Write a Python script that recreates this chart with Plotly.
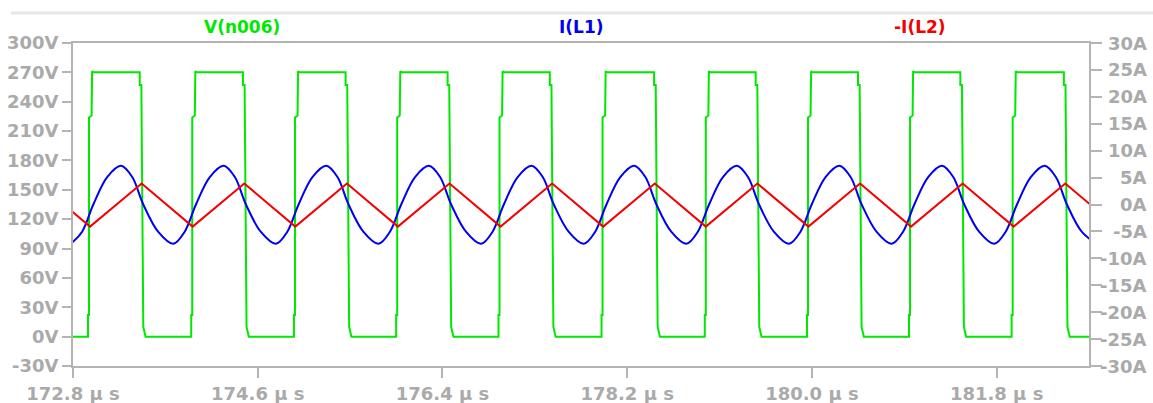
import plotly.graph_objects as go

# ---------------- axis ticks ----------------
X_TICK_VALS = [172.8, 174.6, 176.4, 178.2, 180.0, 181.8]
X_TICK_TEXT = ["172.8 µ s", "174.6 µ s", "176.4 µ s", "178.2 µ s", "180.0 µ s", "181.8 µ s"]
X_RANGE = [172.8, 182.7]

V_TICK_VALS = [-30, 0, 30, 60, 90, 120, 150, 180, 210, 240, 270, 300]
V_TICK_TEXT = ["-30V", "0V", "30V", "60V", "90V", "120V", "150V", "180V", "210V", "240V", "270V", "300V"]
V_RANGE = [-30, 300]

I_TICK_VALS = [-30, -25, -20, -15, -10, -5, 0, 5, 10, 15, 20, 25, 30]
I_TICK_TEXT = ["-30A", "-25A", "-20A", "-15A", "-10A", "-5A", "0A", "5A", "10A", "15A", "20A", "25A", "30A"]
I_RANGE = [-30, 30]

TRACE_NAMES = ["V(n006)", "I(L1)", "-I(L2)"]

# ---------------- V(n006): switching node (read edges, µs) ----------------
V_RISE_T = [172.946, 173.952, 174.953, 175.949, 176.946, 177.950, 178.956, 179.952, 180.946, 181.946]
V_FALL_T = [173.450, 174.456, 175.456, 176.450, 177.446, 178.462, 179.452, 180.449, 181.446, 182.455]
# edge shapes (offset in µs, volts)
RISE_DT = [0.000, 0.000, 0.010, 0.010, 0.035, 0.040, 0.055]
RISE_V = [0, 22, 22, 224, 226, 271, 270]
FALL_DT = [0.000, 0.000, 0.016, 0.035, 0.057]
FALL_V = [270, 257, 257, 10, 0]

# ---------------- I(L1) (read points, µs / A) ----------------
I_L1_T = [
    172.777, 172.887, 172.998, 173.133, 173.268, 173.377, 173.485, 173.631,
    173.777, 173.887, 173.998, 174.133, 174.268, 174.377, 174.485, 174.631,
    174.777, 174.887, 174.998, 175.133, 175.268, 175.377, 175.485, 175.631,
    175.777, 175.887, 175.998, 176.133, 176.268, 176.377, 176.485, 176.631,
    176.777, 176.887, 176.998, 177.133, 177.268, 177.377, 177.485, 177.631,
    177.777, 177.887, 177.998, 178.133, 178.268, 178.377, 178.485, 178.631,
    178.777, 178.887, 178.998, 179.133, 179.268, 179.377, 179.485, 179.631,
    179.777, 179.887, 179.998, 180.133, 180.268, 180.377, 180.485, 180.631,
    180.777, 180.887, 180.998, 181.133, 181.268, 181.377, 181.485, 181.631,
    181.777, 181.887, 181.998, 182.133, 182.268, 182.377, 182.485, 182.631,
    182.777,
]
I_L1_A = [
    -7.3, -5.1, 0.0, 5.1, 7.2, 5.1, 0.0, -5.1,
    -7.3, -5.1, 0.0, 5.1, 7.2, 5.1, 0.0, -5.1,
    -7.3, -5.1, 0.0, 5.1, 7.2, 5.1, 0.0, -5.1,
    -7.3, -5.1, 0.0, 5.1, 7.2, 5.1, 0.0, -5.1,
    -7.3, -5.1, 0.0, 5.1, 7.2, 5.1, 0.0, -5.1,
    -7.3, -5.1, 0.0, 5.1, 7.2, 5.1, 0.0, -5.1,
    -7.3, -5.1, 0.0, 5.1, 7.2, 5.1, 0.0, -5.1,
    -7.3, -5.1, 0.0, 5.1, 7.2, 5.1, 0.0, -5.1,
    -7.3, -5.1, 0.0, 5.1, 7.2, 5.1, 0.0, -5.1,
    -7.3, -5.1, 0.0, 5.1, 7.2, 5.1, 0.0, -5.1,
    -7.3,
]

# ---------------- -I(L2) (read peaks/troughs, µs / A) ----------------
I_L2_T = [172.469, 172.966, 173.469, 173.966, 174.469, 174.966, 175.469, 175.966,
          176.469, 176.966, 177.469, 177.966, 178.469, 178.966, 179.469, 179.966,
          180.469, 180.966, 181.469, 181.966, 182.469, 182.966]
I_L2_A = [3.9, -4.1, 3.9, -4.1, 3.9, -4.1, 3.9, -4.1,
          3.9, -4.1, 3.9, -4.1, 3.9, -4.1, 3.9, -4.1,
          3.9, -4.1, 3.9, -4.1, 3.9, -4.1]

# ---------------- build V(n006) polyline from read edges ----------------
v_t = [X_RANGE[0] - 0.05]
v_v = [0]
for tr, tf in zip(V_RISE_T, V_FALL_T):
    for dt, vv in zip(RISE_DT, RISE_V):
        v_t.append(tr + dt)
        v_v.append(vv)
    for dt, vv in zip(FALL_DT, FALL_V):
        v_t.append(tf + dt)
        v_v.append(vv)
v_t.append(X_RANGE[1] + 0.05)
v_v.append(0)

GREEN = "rgb(0,232,0)"
BLUE = "rgb(0,0,240)"
RED = "rgb(245,0,0)"
GRAY = "#aaaaaa"
AXIS_GRAY = "#b4b4b4"
FONT = "DejaVu Sans"

fig = go.Figure()
fig.add_trace(go.Scatter(x=v_t, y=v_v, mode="lines", name=TRACE_NAMES[0],
                         line=dict(color=GREEN, width=2), yaxis="y"))
fig.add_trace(go.Scatter(x=I_L1_T, y=I_L1_A, mode="lines", name=TRACE_NAMES[1],
                         line=dict(color=BLUE, width=2, shape="spline", smoothing=1.0), yaxis="y2"))
fig.add_trace(go.Scatter(x=I_L2_T, y=I_L2_A, mode="lines", name=TRACE_NAMES[2],
                         line=dict(color=RED, width=2), yaxis="y2"))

L, R, T, B = 73, 64, 43, 37
W, H = 1153, 403
pw = W - L - R
ph = H - T - B

tickfont = dict(family=FONT, size=18, color=GRAY, weight="bold")

fig.update_layout(
    width=W, height=H,
    margin=dict(l=L, r=R, t=T, b=B, pad=0, autoexpand=False),
    paper_bgcolor="white", plot_bgcolor="white",
    showlegend=False,
    xaxis=dict(range=X_RANGE, tickmode="array", tickvals=X_TICK_VALS, ticktext=X_TICK_TEXT,
               showgrid=False, zeroline=False, showline=True, linecolor=AXIS_GRAY, linewidth=2,
               mirror=True, ticks="outside", ticklen=10, tickwidth=2, tickcolor=AXIS_GRAY,
               tickfont=tickfont, automargin=False),
    yaxis=dict(range=V_RANGE, tickmode="array", tickvals=V_TICK_VALS, ticktext=V_TICK_TEXT,
               showgrid=False, zeroline=False, showline=True, linecolor=AXIS_GRAY, linewidth=2,
               ticks="outside", ticklen=9, tickwidth=2, tickcolor=AXIS_GRAY,
               tickfont=tickfont, automargin=False),
    yaxis2=dict(range=I_RANGE, tickmode="array", tickvals=I_TICK_VALS, ticktext=I_TICK_TEXT,
                overlaying="y", side="right", showticklabels=False,
                showgrid=False, zeroline=False, showline=True, linecolor=AXIS_GRAY, linewidth=2,
                ticks="outside", ticklen=11, tickwidth=2, tickcolor=AXIS_GRAY, automargin=False),
)

# right-axis labels, right-aligned like the original
for val, txt in zip(I_TICK_VALS, I_TICK_TEXT):
    fig.add_annotation(x=(W - 4 - L) / pw, xref="paper", xanchor="right",
                       y=val, yref="y2", yanchor="middle", text=txt, showarrow=False,
                       font=tickfont)

# trace names at top
for frac, name, col in zip([1 / 6, 1 / 2, 5 / 6], TRACE_NAMES, [GREEN, BLUE, RED]):
    fig.add_annotation(x=frac, xref="paper", xanchor="center",
                       y=1 + 16.5 / ph, yref="paper", yanchor="middle",
                       text=name, showarrow=False,
                       font=dict(family=FONT, size=17, color=col, weight="bold"))

# light grey band at the very top
fig.add_shape(type="line", xref="paper", yref="paper",
              x0=(11 - L) / pw, x1=(W - L) / pw, y0=1 + 30 / ph, y1=1 + 30 / ph,
              line=dict(color="#e6e6e6", width=3))

fig.write_html("out.html")
